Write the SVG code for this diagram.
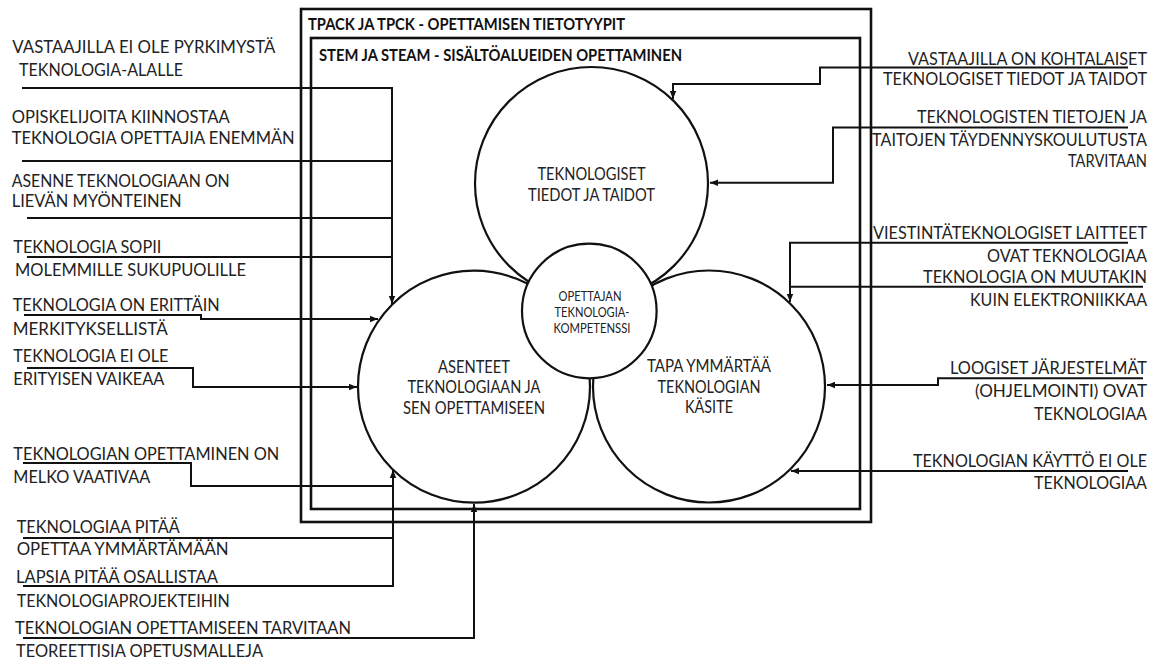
<svg xmlns="http://www.w3.org/2000/svg" width="1160" height="659" viewBox="0 0 1160 659">
  <defs>
    <marker id="arrow" markerUnits="userSpaceOnUse" markerWidth="9" markerHeight="8" refX="8" refY="4" orient="auto">
      <path d="M0,0.8 L8,4 L0,7.2 z" fill="#111"/>
    </marker>
    <style>
      .frame { fill: none; stroke: #111; stroke-width: 2.6; }
      .circle { fill: #fff; stroke: #111; stroke-width: 2.2; }
      .conn { fill: none; stroke: #111; stroke-width: 2; }
      .arr { marker-end: url(#arrow); }
      text { font-family: "Lato", "Open Sans", "Liberation Sans", sans-serif; fill: #222; font-size: 17px; }
      .title { font-weight: bold; fill: #111; }
      .end { text-anchor: end; }
      .mid { text-anchor: middle; }
      .small { font-size: 13.5px; }
    </style>
  </defs>

  <rect width="1160" height="659" fill="#fff"/>

  <!-- outer frame: TPACK -->
  <g id="frame-tpack">
    <rect class="frame" x="301" y="9" width="570" height="513"/>
    <text class="title" x="308" y="30" textLength="317" lengthAdjust="spacingAndGlyphs">TPACK JA TPCK - OPETTAMISEN TIETOTYYPIT</text>
  </g>

  <!-- inner frame: STEM -->
  <g id="frame-stem">
    <rect class="frame" x="311" y="38" width="549" height="471"/>
    <text class="title" x="319" y="61" textLength="363" lengthAdjust="spacingAndGlyphs">STEM JA STEAM - SISÄLTÖALUEIDEN OPETTAMINEN</text>
  </g>

  <!-- connectors -->
  <g id="connectors">
    <path class="conn arr" d="M22,88 H392 V304"/>
    <path class="conn" d="M22,161 H392"/>
    <path class="conn" d="M27,218 H392"/>
    <path class="conn" d="M27,257 H392"/>
    <path class="conn arr" d="M24,315 H201 V319 H378"/>
    <path class="conn arr" d="M27,368 H193 V387 H357"/>
    <path class="conn" d="M23,463 H191 V486 H393"/>
    <path class="conn" d="M23,538 H393"/>
    <path class="conn arr" d="M23,586 H393 V470"/>
    <path class="conn arr" d="M23,638 H474 V504"/>

    <path class="conn arr" d="M1128,67.5 H820 V84 H673 V99"/>
    <path class="conn arr" d="M1128,127.5 H833 V182.7 H710"/>
    <path class="conn arr" d="M1128,242.7 H790 V302"/>
    <path class="conn" d="M1143,286.7 H790"/>
    <path class="conn arr" d="M1143,378.3 H938 V385 H827"/>
    <path class="conn arr" d="M1128,471 H791"/>
  </g>

  <!-- circles -->
  <g id="node-tiedot">
    <circle class="circle" cx="591.5" cy="183.5" r="116.5"/>
    <text class="mid" x="591.5" y="180" textLength="108" lengthAdjust="spacingAndGlyphs">TEKNOLOGISET</text>
    <text class="mid" x="591.5" y="201" textLength="127" lengthAdjust="spacingAndGlyphs">TIEDOT JA TAIDOT</text>
  </g>
  <g id="node-asenteet">
    <circle class="circle" cx="474" cy="386.7" r="116"/>
    <text class="mid" x="474" y="372.7" textLength="72" lengthAdjust="spacingAndGlyphs">ASENTEET</text>
    <text class="mid" x="474" y="393.3" textLength="133" lengthAdjust="spacingAndGlyphs">TEKNOLOGIAAN JA</text>
    <text class="mid" x="474" y="414" textLength="142" lengthAdjust="spacingAndGlyphs">SEN OPETTAMISEEN</text>
  </g>
  <g id="node-kasite">
    <circle class="circle" cx="709" cy="386.5" r="116"/>
    <text class="mid" x="709" y="371.7" textLength="124" lengthAdjust="spacingAndGlyphs">TAPA YMMÄRTÄÄ</text>
    <text class="mid" x="709" y="392.7" textLength="103" lengthAdjust="spacingAndGlyphs">TEKNOLOGIAN</text>
    <text class="mid" x="709" y="412.7" textLength="48" lengthAdjust="spacingAndGlyphs">KÄSITE</text>
  </g>
  <g id="node-kompetenssi">
    <circle class="circle" cx="589.3" cy="311" r="67.3"/>
    <text class="mid small" x="590" y="301" textLength="63" lengthAdjust="spacingAndGlyphs">OPETTAJAN</text>
    <text class="mid small" x="592" y="316.7" textLength="75" lengthAdjust="spacingAndGlyphs">TEKNOLOGIA-</text>
    <text class="mid small" x="592" y="333" textLength="77" lengthAdjust="spacingAndGlyphs">KOMPETENSSI</text>
  </g>

  <!-- left-hand statements -->
  <g id="label-pyrkimys">
    <text x="12.3" y="53" textLength="263" lengthAdjust="spacingAndGlyphs">VASTAAJILLA EI OLE PYRKIMYSTÄ</text>
    <text x="19" y="76" textLength="164" lengthAdjust="spacingAndGlyphs">TEKNOLOGIA-ALALLE</text>
  </g>
  <g id="label-kiinnostus">
    <text x="11.7" y="122.5" textLength="218" lengthAdjust="spacingAndGlyphs">OPISKELIJOITA KIINNOSTAA</text>
    <text x="11.7" y="144" textLength="283" lengthAdjust="spacingAndGlyphs">TEKNOLOGIA OPETTAJIA ENEMMÄN</text>
  </g>
  <g id="label-asenne">
    <text x="11.7" y="186.5" textLength="218" lengthAdjust="spacingAndGlyphs">ASENNE TEKNOLOGIAAN ON</text>
    <text x="11.7" y="206.5" textLength="170" lengthAdjust="spacingAndGlyphs">LIEVÄN MYÖNTEINEN</text>
  </g>
  <g id="label-sukupuolet">
    <text x="13.3" y="253" textLength="148" lengthAdjust="spacingAndGlyphs">TEKNOLOGIA SOPII</text>
    <text x="15" y="276" textLength="231" lengthAdjust="spacingAndGlyphs">MOLEMMILLE SUKUPUOLILLE</text>
  </g>
  <g id="label-merkitys">
    <text x="12.7" y="311" textLength="207" lengthAdjust="spacingAndGlyphs">TEKNOLOGIA ON ERITTÄIN</text>
    <text x="12.7" y="335" textLength="155" lengthAdjust="spacingAndGlyphs">MERKITYKSELLISTÄ</text>
  </g>
  <g id="label-vaikeus">
    <text x="13.3" y="362" textLength="155" lengthAdjust="spacingAndGlyphs">TEKNOLOGIA EI OLE</text>
    <text x="13.3" y="385" textLength="151" lengthAdjust="spacingAndGlyphs">ERITYISEN VAIKEAA</text>
  </g>
  <g id="label-vaativuus">
    <text x="13.3" y="460" textLength="266" lengthAdjust="spacingAndGlyphs">TEKNOLOGIAN OPETTAMINEN ON</text>
    <text x="13.3" y="483" textLength="137" lengthAdjust="spacingAndGlyphs">MELKO VAATIVAA</text>
  </g>
  <g id="label-ymmartaminen">
    <text x="16.7" y="533" textLength="163" lengthAdjust="spacingAndGlyphs">TEKNOLOGIAA PITÄÄ</text>
    <text x="16.7" y="555" textLength="212" lengthAdjust="spacingAndGlyphs">OPETTAA YMMÄRTÄMÄÄN</text>
  </g>
  <g id="label-osallistaminen">
    <text x="16" y="583" textLength="202" lengthAdjust="spacingAndGlyphs">LAPSIA PITÄÄ OSALLISTAA</text>
    <text x="16.7" y="607" textLength="213" lengthAdjust="spacingAndGlyphs">TEKNOLOGIAPROJEKTEIHIN</text>
  </g>
  <g id="label-opetusmallit">
    <text x="15" y="634" textLength="336" lengthAdjust="spacingAndGlyphs">TEKNOLOGIAN OPETTAMISEEN TARVITAAN</text>
    <text x="16" y="657" textLength="247" lengthAdjust="spacingAndGlyphs">TEOREETTISIA OPETUSMALLEJA</text>
  </g>

  <!-- right-hand statements -->
  <g id="label-kohtalaiset">
    <text class="end" x="1147" y="65" textLength="239" lengthAdjust="spacingAndGlyphs">VASTAAJILLA ON KOHTALAISET</text>
    <text class="end" x="1147" y="85" textLength="264" lengthAdjust="spacingAndGlyphs">TEKNOLOGISET TIEDOT JA TAIDOT</text>
  </g>
  <g id="label-taydennys">
    <text class="end" x="1147" y="123" textLength="230" lengthAdjust="spacingAndGlyphs">TEKNOLOGISTEN TIETOJEN JA</text>
    <text class="end" x="1147" y="146" textLength="275" lengthAdjust="spacingAndGlyphs">TAITOJEN TÄYDENNYSKOULUTUSTA</text>
    <text class="end" x="1147" y="167" textLength="79" lengthAdjust="spacingAndGlyphs">TARVITAAN</text>
  </g>
  <g id="label-viestinta">
    <text class="end" x="1147" y="239" textLength="274" lengthAdjust="spacingAndGlyphs">VIESTINTÄTEKNOLOGISET LAITTEET</text>
    <text class="end" x="1147" y="262" textLength="160" lengthAdjust="spacingAndGlyphs">OVAT TEKNOLOGIAA</text>
  </g>
  <g id="label-elektroniikka">
    <text class="end" x="1147" y="283" textLength="224" lengthAdjust="spacingAndGlyphs">TEKNOLOGIA ON MUUTAKIN</text>
    <text class="end" x="1147" y="306" textLength="177" lengthAdjust="spacingAndGlyphs">KUIN ELEKTRONIIKKAA</text>
  </g>
  <g id="label-ohjelmointi">
    <text class="end" x="1147" y="374" textLength="197" lengthAdjust="spacingAndGlyphs">LOOGISET JÄRJESTELMÄT</text>
    <text class="end" x="1147" y="397" textLength="172" lengthAdjust="spacingAndGlyphs">(OHJELMOINTI) OVAT</text>
    <text class="end" x="1147" y="420" textLength="113" lengthAdjust="spacingAndGlyphs">TEKNOLOGIAA</text>
  </g>
  <g id="label-kaytto">
    <text class="end" x="1147" y="466.5" textLength="234" lengthAdjust="spacingAndGlyphs">TEKNOLOGIAN KÄYTTÖ EI OLE</text>
    <text class="end" x="1147" y="488.5" textLength="113" lengthAdjust="spacingAndGlyphs">TEKNOLOGIAA</text>
  </g>
</svg>
